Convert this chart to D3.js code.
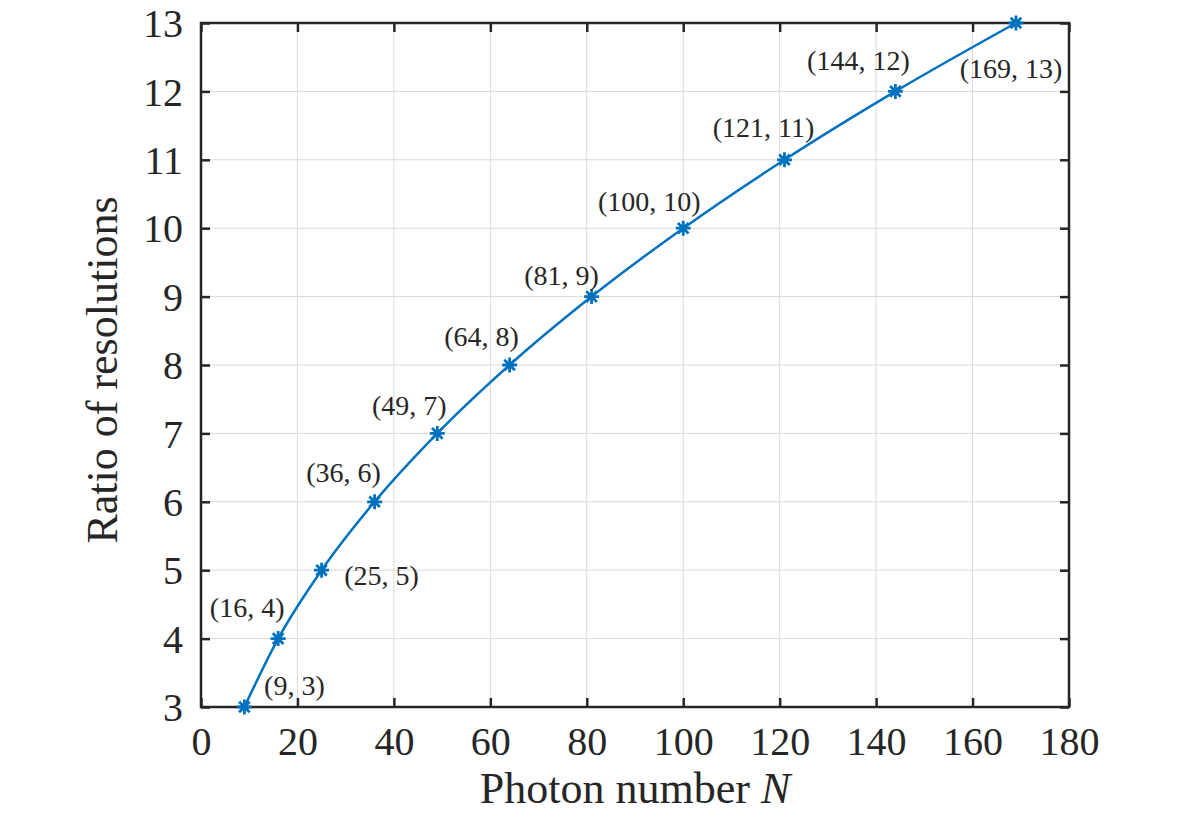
<!DOCTYPE html>
<html>
<head>
<meta charset="utf-8">
<script src="https://cdn.jsdelivr.net/npm/d3@7"></script>
<style>
  html, body { margin: 0; padding: 0; background: #fff; }
  svg { display: block; }
</style>
</head>
<body>
<svg id="chart" width="1182" height="823" font-family="Liberation Serif"></svg>
<script>
// ---- data ----
const photonN = [9, 16, 25, 36, 49, 64, 81, 100, 121, 144, 169];
const ratio   = [3, 4, 5, 6, 7, 8, 9, 10, 11, 12, 13];
const pointLabels = ["(9, 3)", "(16, 4)", "(25, 5)", "(36, 6)", "(49, 7)", "(64, 8)",
                     "(81, 9)", "(100, 10)", "(121, 11)", "(144, 12)", "(169, 13)"];
const xTicks = [0, 20, 40, 60, 80, 100, 120, 140, 160, 180];
const yTicks = [3, 4, 5, 6, 7, 8, 9, 10, 11, 12, 13];
const xLabel = "Photon number ";
const xLabelItalic = "N";
const yLabel = "Ratio of resolutions";

// label placement offsets (pixels, relative to each point; label centre)
const labelOffsets = [[50, -22], [-31, -31], [60, 5], [-31, -29], [-28, -28], [-28, -29],
                      [-30, -21], [-34, -27], [-21, -32], [-37, -31], [-5, 45]];

// ---- layout ----
const pL = 201, pR = 1069, pT = 23, pB = 707;
const axisColor = "#262626", lineColor = "#0072BD", gridColor = "#d9d9d9";
const FONT = "Liberation Serif";

const svg = d3.select("#chart");
const x = d3.scaleLinear().domain([0, 180]).range([pL, pR]);
const y = d3.scaleLinear().domain([3, 13]).range([pB, pT]);

// grid
const grid = svg.append("g");
grid.selectAll("line.gx").data(xTicks).join("line").attr("class", "gx")
  .attr("x1", d => x(d)).attr("x2", d => x(d))
  .attr("y1", pT).attr("y2", pB)
  .attr("stroke", gridColor).attr("stroke-width", 1);
grid.selectAll("line.gy").data(yTicks).join("line").attr("class", "gy")
  .attr("y1", d => y(d)).attr("y2", d => y(d))
  .attr("x1", pL).attr("x2", pR)
  .attr("stroke", gridColor).attr("stroke-width", 1);

// axes (ticks inward, labels outside)
const tickLen = 9;
const fontSize = 40;
const xAxis = d3.axisBottom(x).tickValues(xTicks).tickSizeInner(-tickLen).tickSizeOuter(0).tickPadding(20);
const yAxis = d3.axisLeft(y).tickValues(yTicks).tickSizeInner(-tickLen).tickSizeOuter(0).tickPadding(18);
const xTop = d3.axisTop(x).tickValues(xTicks).tickSizeInner(-tickLen).tickSizeOuter(0).tickFormat("");
const yRight = d3.axisRight(y).tickValues(yTicks).tickSizeInner(-tickLen).tickSizeOuter(0).tickFormat("");

function style(g) {
  g.attr("font-family", FONT).attr("font-size", fontSize);
  g.select(".domain").remove();
  g.selectAll(".tick line").attr("stroke", axisColor).attr("stroke-width", 2.5);
  g.selectAll(".tick text").attr("fill", axisColor);
}
svg.append("g").attr("transform", `translate(0,${pB})`).call(xAxis).call(style);
svg.append("g").attr("transform", `translate(${pL},0)`).call(yAxis).call(style)
  .selectAll(".tick text").attr("dy", "0.34em");
svg.append("g").attr("transform", `translate(0,${pT})`).call(xTop).call(style);
svg.append("g").attr("transform", `translate(${pR},0)`).call(yRight).call(style);

// box
svg.append("rect").attr("x", pL).attr("y", pT)
  .attr("width", pR - pL).attr("height", pB - pT)
  .attr("fill", "none").attr("stroke", axisColor).attr("stroke-width", 2.5);

// line
const pts = photonN.map((n, i) => [n, ratio[i]]);
const line = d3.line().x(d => x(d[0])).y(d => y(d[1])).curve(d3.curveMonotoneX);
svg.append("path").datum(pts).attr("d", line)
  .attr("fill", "none").attr("stroke", lineColor).attr("stroke-width", 2.5);

// asterisk markers
const r = 7.5;
const star = [];
for (let k = 0; k < 4; k++) {
  const a = k * Math.PI / 4;
  star.push(`M${-r * Math.cos(a)},${-r * Math.sin(a)}L${r * Math.cos(a)},${r * Math.sin(a)}`);
}
svg.append("g").selectAll("path").data(pts).join("path")
  .attr("transform", d => `translate(${x(d[0])},${y(d[1])})`)
  .attr("d", star.join(""))
  .attr("stroke", lineColor).attr("stroke-width", 2.8).attr("fill", "none");

// point labels
svg.append("g").selectAll("text").data(pts).join("text")
  .attr("x", (d, i) => x(d[0]) + labelOffsets[i][0])
  .attr("y", (d, i) => y(d[1]) + labelOffsets[i][1])
  .attr("dy", "0.34em")
  .attr("text-anchor", "middle")
  .attr("font-family", FONT).attr("font-size", 28).attr("fill", axisColor)
  .text((d, i) => pointLabels[i]);

// axis titles
const xt = svg.append("text")
  .attr("x", 635).attr("y", 803)
  .attr("text-anchor", "middle")
  .attr("font-family", FONT).attr("font-size", 44).attr("fill", axisColor);
xt.append("tspan").text(xLabel);
xt.append("tspan").attr("font-style", "italic").text(xLabelItalic);

svg.append("text")
  .attr("transform", `translate(117,370) rotate(-90)`)
  .attr("text-anchor", "middle")
  .attr("font-family", FONT).attr("font-size", 44).attr("fill", axisColor)
  .text(yLabel);
</script>
</body>
</html>
